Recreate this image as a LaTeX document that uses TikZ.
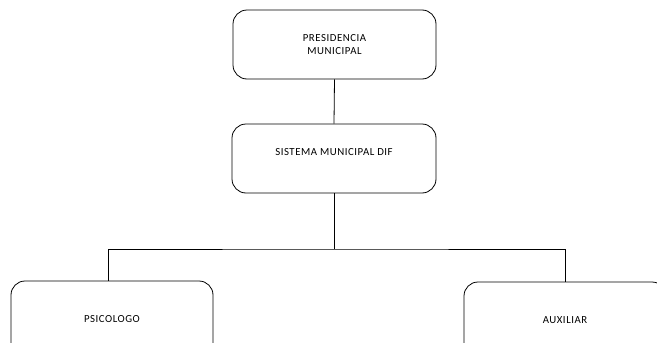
\documentclass[tikz,border=0pt]{standalone}
\usepackage{fontspec}
\setmainfont{Carlito}[LetterSpace=5]
\begin{document}
\begin{tikzpicture}[x=1pt,y=-1pt,
  orgbox/.style={draw, line width=0.8pt, rounded corners=14pt, align=center,
    font=\fontsize{10.8}{13}\selectfont, inner sep=0pt},
  conn/.style={draw, line width=0.8pt}]
\useasboundingbox (0,0) rectangle (657,343);
\clip (0,0) rectangle (657,343);
\node[orgbox, minimum width=203pt, minimum height=69pt] (pres) at (334.5,44.5) {PRESIDENCIA\\MUNICIPAL};
\node[orgbox, minimum width=204pt, minimum height=69pt] (sis) at (334,158.5) {SISTEMA MUNICIPAL DIF\\ \mbox{}};
\node[orgbox, minimum width=202pt, minimum height=76pt] (psi) at (112,319) {PSICOLOGO};
\node[orgbox, minimum width=202pt, minimum height=76pt] (aux) at (565,320) {AUXILIAR};
\coordinate (bus) at (334,249);
\draw[conn] (pres.south) -- (sis.north);
\draw[conn] (sis.south) -- (bus);
\draw[conn] ([xshift=-4pt]psi.north) |- (bus) -| (aux.north);
\end{tikzpicture}
\end{document}
